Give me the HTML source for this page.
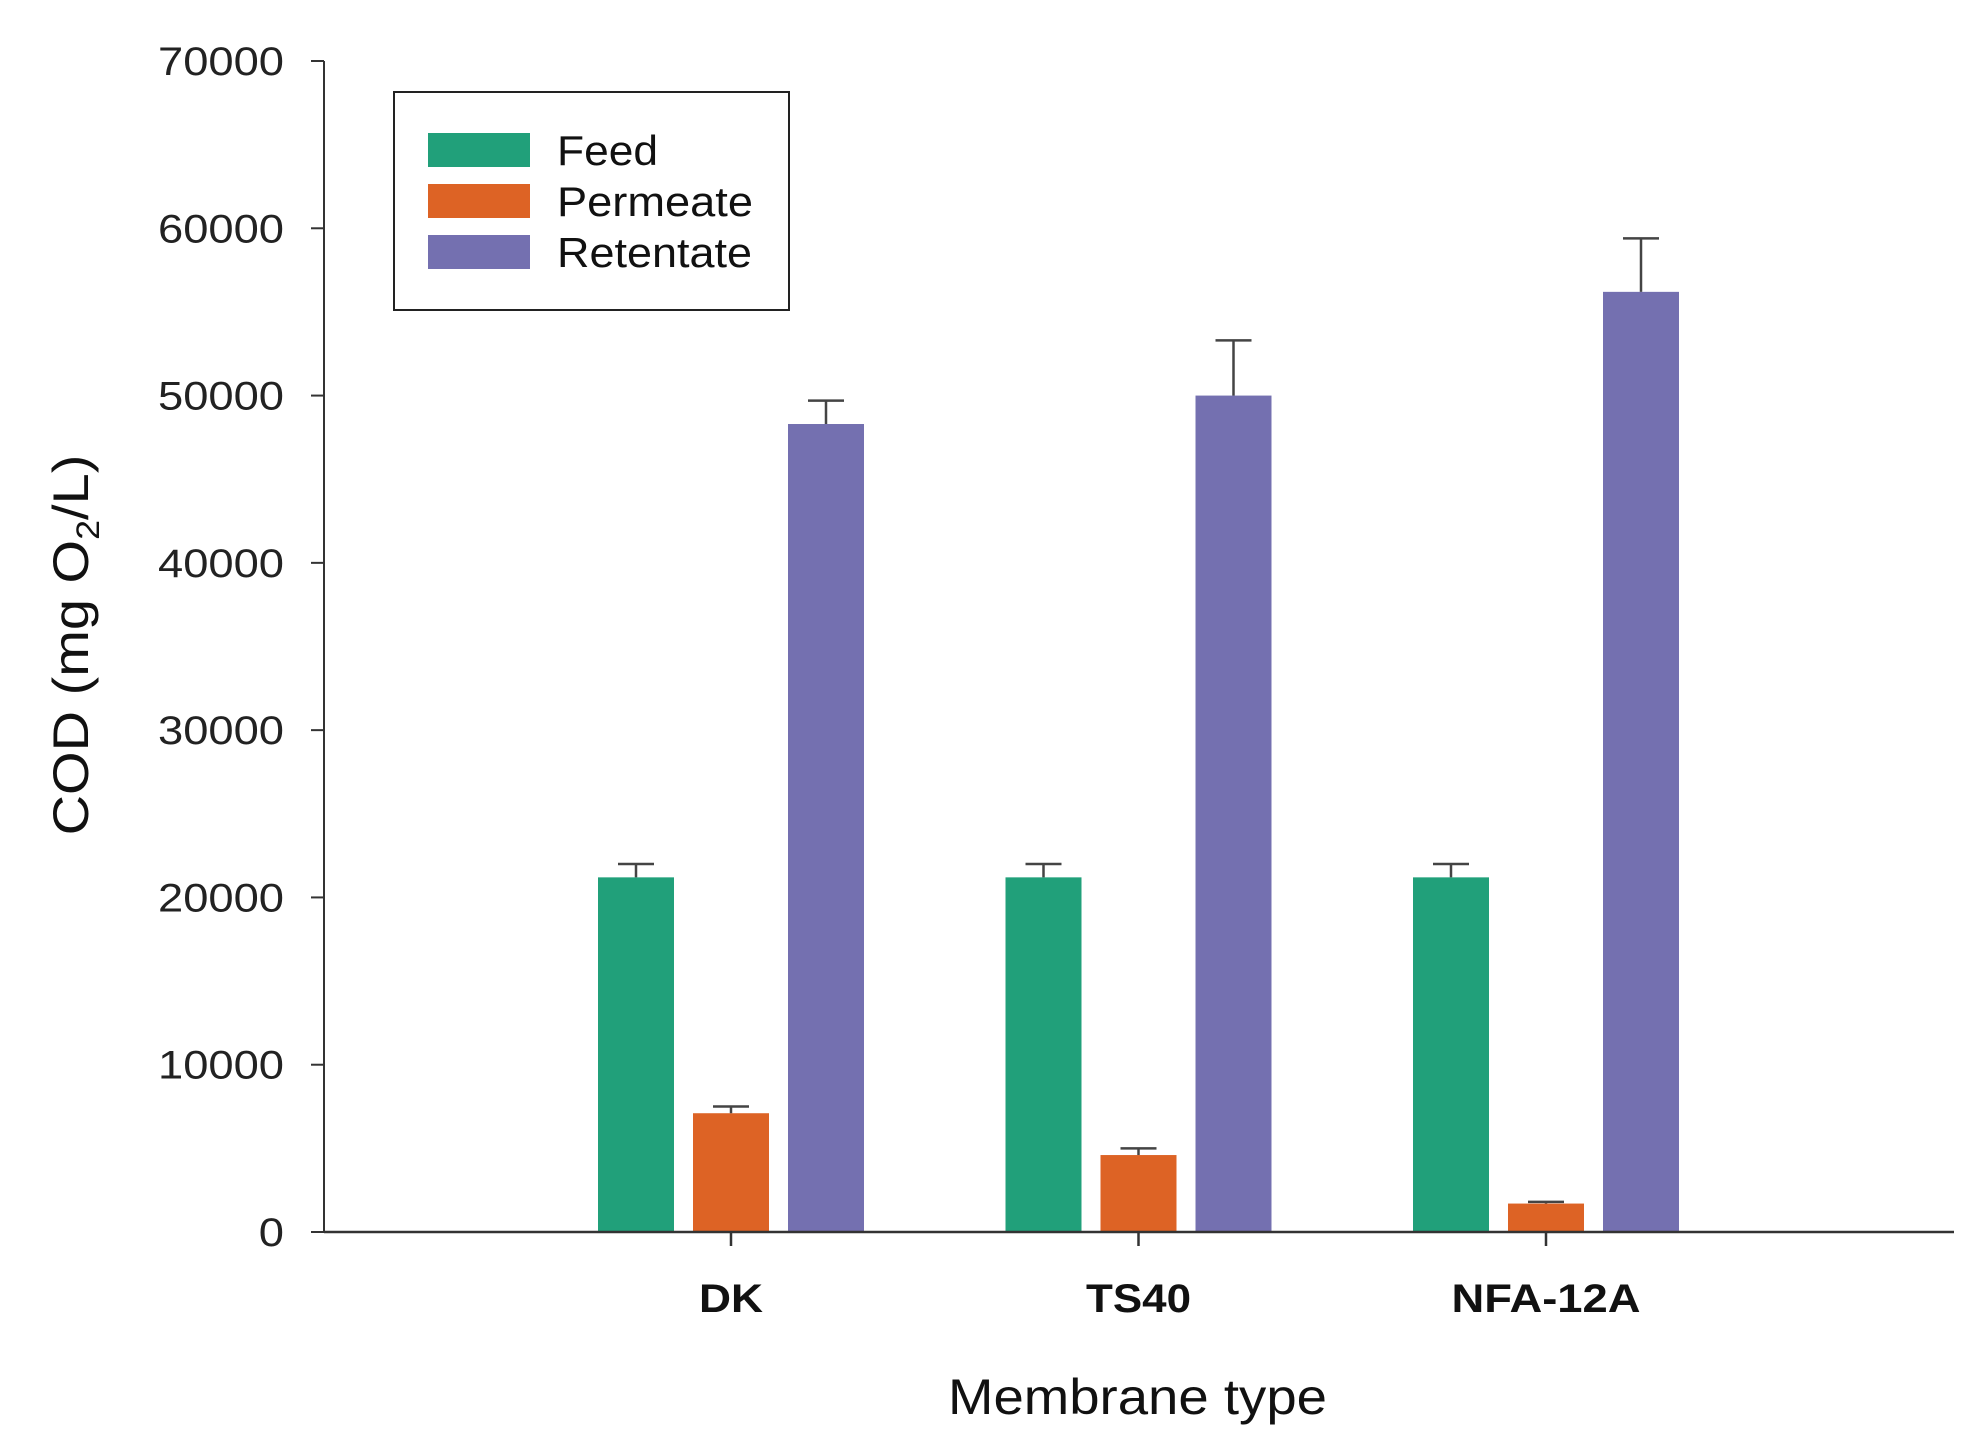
<!DOCTYPE html>
<html><head><meta charset="utf-8"><style>
html,body{margin:0;padding:0;background:#fff;}
svg{display:block;font-family:"Liberation Sans",Arial,sans-serif;}
</style></head><body>
<svg id="chart" width="1979" height="1453" viewBox="0 0 1979 1453"></svg>
<script>
const categories = ["DK", "TS40", "NFA-12A"];
const seriesNames = ["Feed", "Permeate", "Retentate"];
const feedValues = [21200, 21200, 21200];
const feedErrors = [800, 800, 800];
const permeateValues = [7100, 4600, 1700];
const permeateErrors = [400, 400, 100];
const retentateValues = [48300, 50000, 56200];
const retentateErrors = [1400, 3300, 3200];
const yTicks = [0, 10000, 20000, 30000, 40000, 50000, 60000, 70000];

const colors = ["#21a07a", "#dd6325", "#7470b0"];
const catLen = [64, 105, 189];
const legLen = [101, 196, 195];
const NS = "http://www.w3.org/2000/svg";
const svg = document.getElementById("chart");
const X0 = 324, X1 = 1954, Y0 = 1232, YTOP = 61, YMAX = 70000;
function yScale(v){ return Y0 - (Y0 - YTOP) * v / YMAX; }
function groupCenter(i){ return 731 + i * 407.5; }
const BW = 76, STEP = 95;
function mk(tag, attrs, name, text){
  const e = document.createElementNS(NS, tag);
  for (const k in attrs) e.setAttribute(k, attrs[k]);
  
  
  if (text !== undefined) e.textContent = text;
  svg.appendChild(e);
  return e;
}
const values = [feedValues, permeateValues, retentateValues];
const errors = [feedErrors, permeateErrors, retentateErrors];
categories.forEach((c, i) => {
  for (let s = 0; s < 3; s++) {
    const cx = groupCenter(i) + (s - 1) * STEP;
    const v = values[s][i], e = errors[s][i];
    mk('rect', {x: cx - BW/2, y: yScale(v), width: BW, height: Y0 - yScale(v), fill: colors[s]}, 'bar-' + c.toLowerCase() + '-' + seriesNames[s].toLowerCase());
    mk('line', {x1: cx, x2: cx, y1: yScale(v), y2: yScale(v + e), stroke: '#444', 'stroke-width': 2.5}, 'error-bar');
    mk('line', {x1: cx - 18, x2: cx + 18, y1: yScale(v + e), y2: yScale(v + e), stroke: '#444', 'stroke-width': 2.5}, 'error-cap');
  }
});
mk('line', {x1: X0, x2: X0, y1: YTOP, y2: Y0, stroke: '#333', 'stroke-width': 2}, 'y-axis');
mk('line', {x1: X0, x2: X1, y1: Y0, y2: Y0, stroke: '#333', 'stroke-width': 2.5}, 'x-axis');
yTicks.forEach(t => {
  const y = yScale(t);
  mk('line', {x1: X0 - 13, x2: X0, y1: y, y2: y, stroke: '#333', 'stroke-width': 2}, 'y-tick');
  const s = String(t);
  const w = s.length * 25.2;
  mk('text', {x: 284 - w, y: y + 14, 'font-size': 40, fill: '#222', textLength: w, lengthAdjust: 'spacingAndGlyphs'}, 'y-tick-label', s);
});
categories.forEach((c, i) => {
  const x = groupCenter(i);
  mk('line', {x1: x, x2: x, y1: Y0, y2: Y0 + 14, stroke: '#333', 'stroke-width': 2.5}, 'x-tick');
  mk('text', {x: x - catLen[i]/2, y: 1312, 'font-size': 40, 'font-weight': 'bold', fill: '#111', textLength: catLen[i], lengthAdjust: 'spacingAndGlyphs'}, 'x-tick-label', c);
});
mk('text', {x: 1138 - 190, y: 1414, 'font-size': 50, fill: '#111', textLength: 379, lengthAdjust: 'spacingAndGlyphs'}, 'x-axis-title', 'Membrane type');
const yt = mk('text', {x: 0, y: 0, 'text-anchor': 'middle', 'font-size': 50, fill: '#111', transform: 'translate(88,645) rotate(-90) scale(1.12,1)'}, 'y-axis-title');
yt.innerHTML = 'COD (mg O<tspan font-size="32" dy="11">2</tspan><tspan dy="-11">/L)</tspan>';
mk('rect', {x: 394, y: 92, width: 395, height: 218, fill: '#fff', stroke: '#222', 'stroke-width': 2}, 'legend-box');
seriesNames.forEach((n, s) => {
  const y = 150 + s * 51;
  mk('rect', {x: 428, y: y - 17, width: 102, height: 34, fill: colors[s]}, 'legend-swatch-' + n.toLowerCase());
  mk('text', {x: 557, y: y + 15, 'font-size': 42, fill: '#111', textLength: legLen[s], lengthAdjust: 'spacingAndGlyphs'}, 'legend-label-' + n.toLowerCase(), n);
});
</script>
</body></html>
